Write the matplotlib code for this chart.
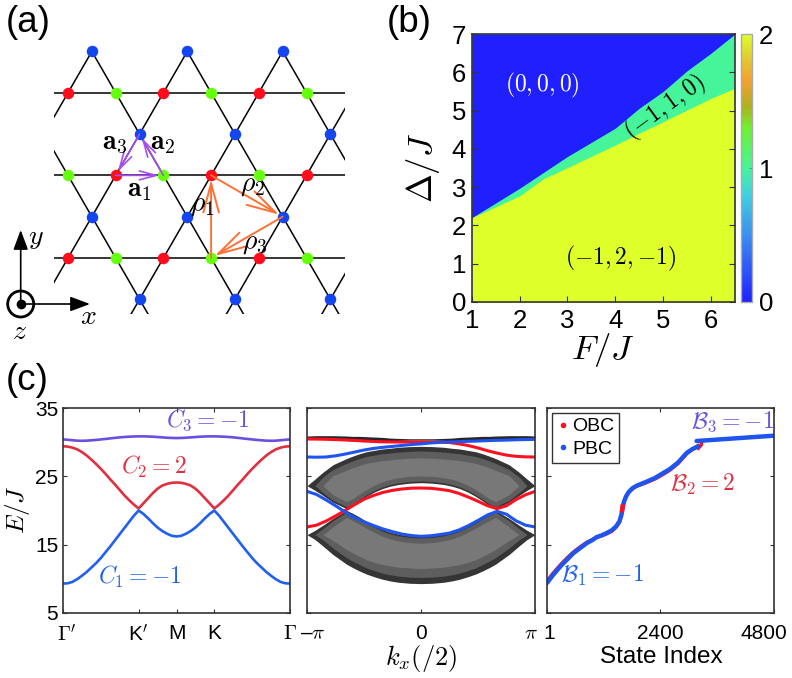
import numpy as np
import matplotlib
matplotlib.use("Agg")
import matplotlib.pyplot as plt
from matplotlib.cm import ScalarMappable
from matplotlib.colors import LinearSegmentedColormap, Normalize
from matplotlib.lines import Line2D
from matplotlib.patches import Circle
from matplotlib.transforms import ScaledTranslation

plt.rcParams['font.family'] = ['Liberation Sans', 'DejaVu Sans']
plt.rcParams['mathtext.fontset'] = 'cm'

W, H = 792, 678

# (a) lattice sites as (column, row), 1 column = lattice constant, row = sqrt(3)/2
red_sites = [(0, 0), (2, 0), (4, 0), (1, 2), (3, 2), (5, 2), (0, 4), (2, 4), (4, 4)]
green_sites = [(1, 0), (3, 0), (5, 0), (0, 2), (2, 2), (4, 2), (1, 4), (3, 4), (5, 4)]
blue_sites = [(1.5, -1), (3.5, -1), (5.5, -1), (0.5, 1), (2.5, 1), (4.5, 1),
              (1.5, 3), (3.5, 3), (5.5, 3), (0.5, 5), (2.5, 5), (4.5, 5)]
lattice_rows = [0, 2, 4]
rising_lines = [-2, 0, 2, 4, 6]
falling_lines = [1, 3, 5, 7]
purple_arrows = [((1, 2), (2, 2)), ((2, 2), (1.5, 3)), ((1.5, 3), (1, 2))]
orange_arrows = [((3, 0), (3, 2)), ((3, 2), (4.5, 1)), ((4.5, 1), (3, 0))]

# (b) phase boundaries
F_upper = [1, 2, 3, 4, 4.5, 5, 5.5, 6, 6.5]
delta_upper = [2.2, 2.97, 3.8, 4.54, 5.06, 5.5, 6.04, 6.5, 7.0]
F_lower = [1, 2, 2.5, 3, 4, 4.5, 5, 6, 6.5]
delta_lower = [2.2, 2.77, 3.22, 3.51, 4.1, 4.41, 4.71, 5.32, 5.58]
phase_labels = ['$(0,0,0)$', '$(-1,1,0)$', '$(-1,2,{-}1)$']

# (c) left: bulk bands, first half of the path (the path is symmetric about M)
path_pos = [0, .0625, .125, .1875, .25, .3125, .375, .4375, .5, .5625, .625, .6875, .75,
            .8125, .875, .9375, 1, 1.0625, 1.125, 1.1875, 1.25, 1.3125, 1.375, 1.4375, 1.5]
band1 = [9.3, 9.35, 9.55, 9.95, 10.45, 11.0, 11.65, 12.3, 13.05, 13.9, 14.75, 15.65, 16.55,
         17.45, 18.35, 19.25, 20.0, 19.5, 18.85, 18.15, 17.5, 17.0, 16.6, 16.3, 16.2]
band2 = [29.4, 29.35, 29.2, 28.95, 28.55, 28.05, 27.45, 26.8, 26.1, 25.35, 24.55, 23.8, 23.0,
         22.2, 21.5, 20.85, 20.3, 21.05, 21.8, 22.55, 23.2, 23.65, 23.9, 24.05, 24.1]
band3 = [30.4, 30.35, 30.28, 30.22, 30.2, 30.22, 30.27, 30.33, 30.4, 30.47, 30.55, 30.63, 30.7,
         30.76, 30.8, 30.83, 30.85, 30.85, 30.83, 30.8, 30.75, 30.7, 30.65, 30.62, 30.6]
path_ticks = [0, 1, 1.5, 2, 3]
path_labels = [r"$\Gamma'$", "K$'$", "M", "K", r"$\Gamma$"]

# (c) middle: strip spectrum, k in units of pi (bulk edges are mirrored about k=0)
k_half = [-1, -.93, -.86, -.772, -.654, -.6, -.54, -.479, -.41, -.34, -.274, -.2, -.1, 0]
low_bottom = [16.46, 15.75, 14.8, 13.55, 12.15, 11.65, 11.15, 10.7, 10.3, 9.95, 9.7, 9.5, 9.35, 9.3]
low_top = [16.46, 17.1, 17.85, 18.85, 20.02, 19.6, 19.05, 18.41, 17.8, 17.25, 16.85, 16.55, 16.3, 16.22]
low_mid_bottom = [16.46, 16.46, 15.7, 14.5, 13.1, 12.6, 12.1, 11.6, 11.2, 10.85, 10.6, 10.4, 10.25, 10.2]
low_mid_top = [16.46, 16.46, 17.35, 18.5, 19.75, 19.35, 18.8, 18.15, 17.55, 17.0, 16.6, 16.3, 16.05, 15.97]
low_core_bottom = [16.46, 16.46, 16.46, 15.6, 14.3, 13.8, 13.3, 12.8, 12.4, 12.1, 11.9, 11.7, 11.6, 11.5]
low_core_top = [16.46, 16.46, 16.46, 17.6, 19.0, 18.5, 18.0, 17.4, 16.8, 16.25, 15.85, 15.55, 15.3, 15.2]
up_bottom = [23.63, 22.95, 22.2, 21.2, 20.27, 20.7, 21.4, 22.07, 22.7, 23.2, 23.54, 23.8, 24.0, 24.07]
up_top = [23.63, 24.6, 25.6, 26.7, 27.6, 27.95, 28.3, 28.6, 28.8, 29.0, 29.1, 29.25, 29.35, 29.39]
up_mid_bottom = [23.63, 23.63, 22.6, 21.5, 20.55, 20.95, 21.65, 22.3, 22.95, 23.45, 23.8, 24.05, 24.25, 24.32]
up_mid_top = [23.63, 23.63, 24.9, 26.0, 26.9, 27.25, 27.6, 27.9, 28.1, 28.3, 28.4, 28.55, 28.65, 28.7]
up_core_bottom = [23.63, 23.63, 23.63, 22.3, 21.3, 21.7, 22.4, 23.05, 23.7, 24.2, 24.55, 24.8, 25.0, 25.05]
up_core_top = [23.63, 23.63, 23.63, 25.1, 25.9, 26.25, 26.6, 26.9, 27.1, 27.3, 27.4, 27.55, 27.65, 27.7]
flat_bottom = [30.6, 30.55, 30.5, 30.4, 30.25, 30.2, 30.15, 30.1, 30.1, 30.15, 30.2, 30.25, 30.3, 30.3]
flat_top = [30.9, 30.95, 30.95, 30.95, 30.9, 30.85, 30.85, 30.8, 30.75, 30.7, 30.6, 30.55, 30.5, 30.5]
k_ticks = [-1, 0, 1]
k_labels = ["\u2013$\\pi$", "0", r"$\pi$"]

k_edge = [-1, -.917, -.833, -.75, -.667, -.583, -.5, -.417, -.333, -.25, -.167, -.083, 0,
          .083, .167, .25, .333, .417, .5, .583, .667, .75, .833, .917, 1]
edge_red_up = [30.46, 30.45, 30.42, 30.38, 30.32, 30.25, 30.17, 30.1, 30.05, 30.03, 30.02, 30.02, 30.02,
               30.02, 30.0, 29.95, 29.75, 29.5, 29.15, 28.75, 28.4, 28.1, 27.93, 27.85, 27.83]
edge_blue_up = [27.83, 27.8, 27.83, 28.0, 28.25, 28.55, 28.85, 29.08, 29.25, 29.38, 29.52, 29.65, 29.75,
                29.88, 29.97, 30.02, 30.08, 30.12, 30.17, 30.22, 30.27, 30.3, 30.35, 30.38, 30.41]
edge_red_mid = [17.59, 17.85, 18.45, 19.2, 20.0, 20.85, 21.65, 22.2, 22.65, 22.95, 23.15, 23.27, 23.29,
                23.25, 23.1, 22.9, 22.5, 21.95, 21.35, 20.7, 20.27, 20.7, 21.6, 22.3, 22.8]
edge_blue_mid = [22.8, 22.35, 21.55, 20.7, 19.8, 18.95, 18.35, 17.8, 17.3, 16.9, 16.55, 16.33, 16.22,
                 16.3, 16.48, 16.7, 17.15, 17.8, 18.55, 19.35, 19.88, 19.45, 18.5, 17.85, 17.59]

# (c) right: sorted spectrum
state_low = [1, 106, 212, 317, 422, 563, 703, 844, 949, 1055, 1160, 1266, 1371, 1463, 1533, 1575,
             1596, 1631, 1673, 1729, 1814, 1898, 2074, 2284, 2460, 2600, 2776, 2952, 3078, 3198]
pbc_low = [9.39, 10.37, 11.24, 12.07, 12.8, 13.78, 14.51, 15.24, 15.63, 16.12, 16.37, 16.71, 17.1, 17.68, 18.41, 19.39,
           20.37, 21.34, 22.07, 22.71, 23.29, 23.63, 24.12, 24.76, 25.49, 26.07, 27.05, 28.41, 29.0, 29.39]
obc_low = [9.65, 10.65, 11.5, 12.3, 13.05, 13.95, 14.7, 15.35, 15.7, 16.1, 16.3, 16.6, 16.95, 17.55, 18.3, 19.35,
           20.37, 21.34, 22.05, 22.65, 23.2, 23.55, 24.0, 24.6, 25.3, 25.9, 26.9, 28.3, 29.0, 29.5]
state_high = [3163, 4800]
pbc_high = [30.17, 30.95]
state_jump = [3200, 3265, 3265]
obc_jump = [29.1, 29.6, 30.1]
state_gap = [1590, 1600]
obc_gap = [20.05, 20.6]
state_ticks = [1, 2400, 4800]

BLUE = '#2060f0'
RED = '#e03040'
PURPLE = '#6a4fe0'
PURE_RED = '#ff1020'
PURE_BLUE = '#1f55ee'


def axes_px(left, top, right, bottom):
    return fig.add_axes([left / W, 1 - bottom / H, (right - left) / W, (bottom - top) / H])


def text_px(x, y, s, **kw):
    kw.setdefault('ha', 'center')
    kw.setdefault('va', 'center')
    return fig.text(x / W, 1 - y / H, s, **kw)


def site_xy(site):
    return site[0], site[1] * np.sqrt(3) / 2


def mirror(values):
    return np.r_[values, values[-2::-1]]


def style_box(ax, labelsize=15, pad=8):
    for s in ax.spines.values():
        s.set_color('#333333')
        s.set_linewidth(1.2)
    ax.tick_params(direction='in', length=3, width=0.8, top=True, right=True,
                   labelsize=labelsize, color='#333333')
    ax.tick_params(axis='x', pad=pad)


def shift_xlabels(ax, shifts):
    # first and last labels sit inside the axes ends in the reference
    for lab, dx in zip(ax.get_xticklabels(), shifts):
        lab.set_transform(lab.get_transform() + ScaledTranslation(dx / 100, 0, fig.dpi_scale_trans))


fig = plt.figure(figsize=(W / 100, H / 100), dpi=100)

# ---- (a) ----
ax = axes_px(54, 52, 345, 314)
ax.set_xlim(-14 / 47.7, 277 / 47.7)
ax.set_ylim(-56 / 47.7, 206 / 47.7)
ax.axis('off')
y_span = np.array([-2.0, 6.0])
for r in lattice_rows:
    ax.plot([-1, 7], [site_xy((0, r))[1]] * 2, color='k', lw=1.1, zorder=1)
for c in rising_lines:
    ax.plot(c + y_span / np.sqrt(3), y_span, color='k', lw=1.1, zorder=1)
for c in falling_lines:
    ax.plot(c - y_span / np.sqrt(3), y_span, color='k', lw=1.1, zorder=1)
for sites, col in [(red_sites, '#ff0d1a'), (green_sites, '#66ff0d'), (blue_sites, '#1446f0')]:
    xy = np.array([site_xy(s) for s in sites])
    ax.plot(xy[:, 0], xy[:, 1], 'o', color=col, ms=8.3, mew=0, clip_on=False, zorder=3)
for arrows, col, lw, ms in [(purple_arrows, '#a64df2', 1.2, 16), (orange_arrows, '#ff7033', 1.4, 28)]:
    for a, b in arrows:
        ax.annotate('', xy=site_xy(b), xytext=site_xy(a), zorder=4,
                    arrowprops=dict(arrowstyle='->,head_length=0.75,head_width=0.2', color=col,
                                    lw=lw, shrinkA=0, shrinkB=3, mutation_scale=ms))

for x, y, s in [(115, 143, r'$\mathbf{a}_3$'), (163, 143, r'$\mathbf{a}_2$'), (139, 190, r'$\mathbf{a}_1$'),
                (202, 205, r'$\rho_1$'), (253, 185, r'$\rho_2$'), (255, 243, r'$\rho_3$')]:
    text_px(x, y, s, fontsize=20, zorder=10)

# coordinate triad, drawn on a full-figure overlay in pixels
over = fig.add_axes([0, 0, 1, 1], facecolor='none')
over.set_xlim(0, W)
over.set_ylim(H, 0)
over.axis('off')
over.add_patch(Circle((20.7, 304), 13, fc='white', ec='k', lw=2))
over.plot([20.7], [304], 'o', color='k', ms=7, mew=0)
for tip in [(20.7, 230), (90, 304)]:
    over.annotate('', xy=tip, xytext=(20.7, 304),
                  arrowprops=dict(arrowstyle='-|>,head_length=0.75,head_width=0.28', color='k',
                                  lw=1.2, shrinkA=0, shrinkB=0, mutation_scale=16))
text_px(36, 238, '$y$', fontsize=20)
text_px(88, 317, '$x$', fontsize=20)
text_px(20, 332, '$z$', fontsize=20)

text_px(6, 23, '(a)', fontsize=26.5, ha='left')
text_px(387, 23, '(b)', fontsize=26.5, ha='left')
text_px(6, 380, '(c)', fontsize=26.5, ha='left')

# ---- (b) ----
cmap = LinearSegmentedColormap.from_list('phase', [
    (0, '#2020ff'), (.25, '#3a90f0'), (.4, '#40d0e0'), (.5, '#45f59a'), (.65, '#70f030'),
    (.73, '#b0b020'), (.83, '#f5a030'), (.92, '#e0d030'), (1, '#dfff2a')])
norm = Normalize(0, 2)
ax = axes_px(471.7, 34, 735, 302)
ax.set_xlim(1, 6.5)
ax.set_ylim(0, 7)
ax.set_facecolor(cmap(norm(1)))
ax.fill_between(F_upper, delta_upper, 7, color=cmap(norm(0)), lw=0)
ax.fill_between(F_lower, 0, delta_lower, color=cmap(norm(2)), lw=0)
style_box(ax, 18.5, pad=5)
ax.tick_params(right=True, top=False, length=4)
ax.tick_params(axis='y', pad=4)
ax.set_xticks([1, 2, 3, 4, 5, 6])
ax.set_yticks(range(8))
text_px(542, 85, phase_labels[0], fontsize=17, color='white')
text_px(665, 108, phase_labels[1], fontsize=17, rotation=36, color='k')
text_px(621, 258, phase_labels[2], fontsize=17, color='k')
text_px(603, 350, '$F/J$', fontsize=25)
text_px(423, 168, r'$\Delta/J$', fontsize=25, rotation=90)

cax = axes_px(740.7, 34, 752, 302)
cb = fig.colorbar(ScalarMappable(norm=norm, cmap=cmap), cax=cax, ticks=[0, 1, 2])
cb.ax.tick_params(labelsize=18.5, length=2, width=0.5, direction='in', color='#666666', pad=5)
cb.outline.set_edgecolor('#aaaaaa')
cb.outline.set_linewidth(1)

# ---- (c) left ----
ax = axes_px(63, 408, 290, 613)
path_full = np.r_[path_pos, 3 - np.array(path_pos[-2::-1])]
ax.plot(path_full, mirror(band3), color=PURPLE, lw=1.9)
ax.plot(path_full, mirror(band2), color=RED, lw=1.9)
ax.plot(path_full, mirror(band1), color=BLUE, lw=1.9)
ax.set_xlim(0, 3)
ax.set_ylim(5, 35)
style_box(ax)
ax.set_xticks(path_ticks, path_labels)
ax.set_yticks([5, 15, 25, 35])
shift_xlabels(ax, [4, 0, 0, 0, 0])
text_px(17, 510, '$E/J$', fontsize=18, rotation=90)
text_px(208, 420, '$C_3=-1$', fontsize=17, color=PURPLE)
text_px(154, 467, '$C_2=2$', fontsize=17, color=RED)
text_px(140, 577, '$C_1=-1$', fontsize=17, color=BLUE)

# ---- (c) middle ----
ax = axes_px(307, 408, 535, 613)
k_full = np.r_[k_half, -np.array(k_half[-2::-1])]
for lo, hi, col in [(low_bottom, low_top, '#353535'), (up_bottom, up_top, '#353535'),
                    (flat_bottom, flat_top, '#262626'),
                    (low_mid_bottom, low_mid_top, '#5e5e5e'), (up_mid_bottom, up_mid_top, '#5e5e5e'),
                    (low_core_bottom, low_core_top, '#787878'), (up_core_bottom, up_core_top, '#787878')]:
    ax.fill_between(k_full, mirror(lo), mirror(hi), color=col, lw=0)
ax.plot(k_edge, edge_red_up, color=PURE_RED, lw=2.2)
ax.plot(k_edge, edge_red_mid, color=PURE_RED, lw=2.2)
ax.plot(k_edge, edge_blue_up, color=PURE_BLUE, lw=2.2)
ax.plot(k_edge, edge_blue_mid, color=PURE_BLUE, lw=2.2)
ax.set_xlim(-1, 1)
ax.set_ylim(5, 35)
style_box(ax)
ax.set_xticks(k_ticks, k_labels)
ax.set_yticks([5, 15, 25, 35], [])
shift_xlabels(ax, [6, 0, -4])
text_px(421, 658, r'$k_x(/2)$', fontsize=19)

# ---- (c) right ----
ax = axes_px(547, 408, 774, 613)
ax.plot(state_low, obc_low, color=PURE_RED, lw=2.4)
ax.plot(state_jump, obc_jump, color=PURE_RED, lw=2.4)
ax.plot(state_low, pbc_low, color=PURE_BLUE, lw=3.2, solid_capstyle='round')
ax.plot(state_high, pbc_high, color=PURE_BLUE, lw=3.2, solid_capstyle='round')
ax.plot(state_gap, obc_gap, color=PURE_RED, lw=3.2)
ax.set_xlim(1, 4800)
ax.set_ylim(5, 35)
style_box(ax)
ax.set_xticks(state_ticks, ['1', '2400', '4800'])
ax.set_yticks([5, 15, 25, 35], [])
shift_xlabels(ax, [2, 0, -10])
text_px(661, 657, 'State Index', fontsize=17.5)
handles = [Line2D([], [], ls='', marker='o', ms=3, color=PURE_RED),
           Line2D([], [], ls='', marker='o', ms=3, color=PURE_BLUE)]
ax.legend(handles, ['OBC', 'PBC'], loc='upper left', fontsize=14, fancybox=False, framealpha=1,
          edgecolor='#333333', borderaxespad=0.25, handletextpad=0.2, handlelength=0.6,
          labelspacing=0.25, borderpad=0.25)
text_px(733, 422, r'$\mathcal{B}_3=-1$', fontsize=17, color=PURPLE)
text_px(703, 484, r'$\mathcal{B}_2=2$', fontsize=17, color=RED)
text_px(603, 575, r'$\mathcal{B}_1=-1$', fontsize=17, color=BLUE)

fig.savefig('out.png', dpi=100)
